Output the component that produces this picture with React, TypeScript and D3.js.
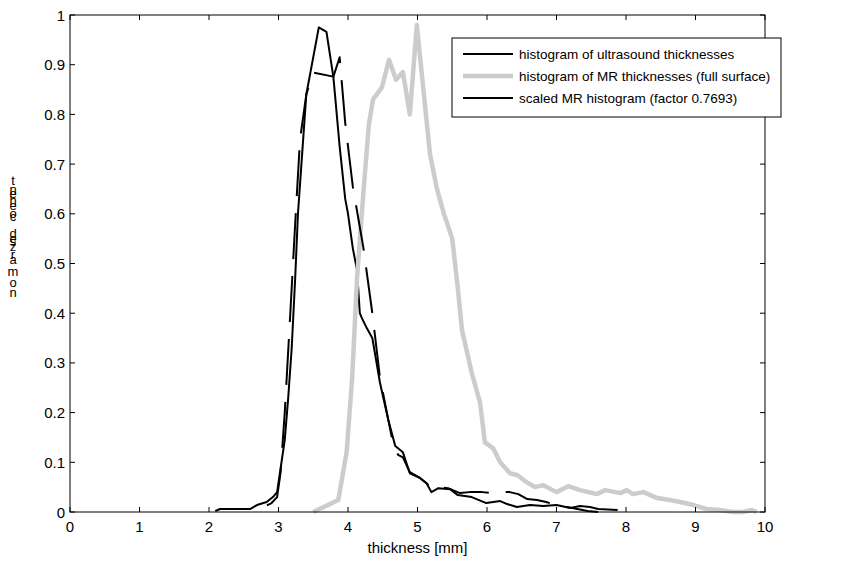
import React from 'react';
import * as d3 from 'd3';

// ---------- data ----------
const X_TICKS = [0, 1, 2, 3, 4, 5, 6, 7, 8, 9, 10];
const Y_TICKS = [0, 0.1, 0.2, 0.3, 0.4, 0.5, 0.6, 0.7, 0.8, 0.9, 1];
const Y_TICK_LABELS = ['0', '0.1', '0.2', '0.3', '0.4', '0.5', '0.6', '0.7', '0.8', '0.9', '1'];

const LEGEND_LABELS = [
  'histogram of ultrasound thicknesses',
  'histogram of MR thicknesses (full surface)',
  'scaled MR histogram (factor 0.7693)',
];
const X_LABEL = 'thickness [mm]';
const Y_LABEL_CHARS = ['t', 'n', 'e', 'h', 'e', 'o', 'c', 'd', 'e', 's', 'z', 'r', 'a', 'm', 'o', 'n'];

const US_X = [2.09, 2.16, 2.59, 2.69, 2.83, 2.92, 2.98, 3.02, 3.09, 3.14, 3.19, 3.24, 3.28, 3.34, 3.40, 3.58, 3.69, 3.79, 3.88, 3.96, 4.00, 4.07, 4.13, 4.17, 4.20, 4.27, 4.35, 4.46, 4.58, 4.68, 4.79, 4.89, 5.04, 5.13, 5.20, 5.30, 5.47, 5.58, 5.78, 5.99, 6.19, 6.29, 6.43, 6.62, 6.81, 7.00, 7.20, 7.34, 7.48, 7.60, 7.88];
const US_Y = [0.002, 0.006, 0.006, 0.014, 0.02, 0.03, 0.04, 0.078, 0.145, 0.23, 0.33, 0.47, 0.6, 0.72, 0.84, 0.975, 0.966, 0.875, 0.735, 0.63, 0.6, 0.53, 0.487, 0.40, 0.39, 0.37, 0.35, 0.26, 0.185, 0.133, 0.12, 0.078, 0.068, 0.058, 0.04, 0.048, 0.046, 0.034, 0.03, 0.018, 0.022, 0.016, 0.01, 0.014, 0.012, 0.014, 0.008, 0.012, 0.01, 0.006, 0.004];

const MR_X = [3.50, 3.86, 3.98, 4.06, 4.13, 4.22, 4.30, 4.36, 4.49, 4.59, 4.69, 4.79, 4.89, 4.99, 5.18, 5.28, 5.38, 5.50, 5.58, 5.64, 5.78, 5.90, 5.97, 6.09, 6.19, 6.33, 6.44, 6.57, 6.69, 6.81, 7.00, 7.17, 7.34, 7.58, 7.70, 7.92, 8.01, 8.10, 8.25, 8.45, 8.63, 8.78, 8.97, 9.16, 9.35, 9.54, 9.68, 9.81, 9.88];
const MR_Y = [0.0, 0.024, 0.12, 0.27, 0.47, 0.64, 0.78, 0.83, 0.855, 0.91, 0.87, 0.885, 0.80, 0.98, 0.72, 0.65, 0.6, 0.55, 0.45, 0.366, 0.28, 0.22, 0.14, 0.128, 0.10, 0.078, 0.074, 0.06, 0.05, 0.054, 0.04, 0.052, 0.044, 0.036, 0.044, 0.038, 0.044, 0.036, 0.04, 0.028, 0.024, 0.02, 0.014, 0.006, 0.004, 0.0, 0.0, 0.004, 0.0];

const SC_X = [2.69, 2.76, 2.90, 2.98, 3.03, 3.09, 3.17, 3.24, 3.31, 3.40, 3.50, 3.79, 3.88, 3.96, 4.07, 4.22, 4.35, 4.46, 4.63, 4.72, 4.79, 4.89, 5.04, 5.13, 5.20, 5.30, 5.44, 5.61, 5.75, 5.93, 6.07, 6.20, 6.33, 6.45, 6.58, 6.72, 6.85, 7.00, 7.15, 7.30, 7.45, 7.60];
const SC_Y = [0.0, 0.008, 0.018, 0.03, 0.08, 0.2, 0.4, 0.58, 0.75, 0.84, 0.884, 0.876, 0.915, 0.783, 0.654, 0.533, 0.40, 0.27, 0.15, 0.115, 0.11, 0.08, 0.068, 0.058, 0.048, 0.05, 0.048, 0.038, 0.04, 0.04, 0.038, 0.04, 0.04, 0.036, 0.026, 0.024, 0.02, 0.014, 0.01, 0.006, 0.002, 0.0];

// ---------- layout ----------
const W = 841, H = 561;
const L = 70, R = 765, T = 15, B = 512;
const FONT = '"Liberation Sans", Arial, Helvetica, sans-serif';
const FS = 15;
const LEG_FS = 13.5;

export default function App() {
  const x = d3.scaleLinear().domain([0, 10]).range([L, R]);
  const y = d3.scaleLinear().domain([0, 1]).range([B, T]);
  const line = d3.line<[number, number]>().x(d => x(d[0])).y(d => y(d[1]));
  const zip = (xs: number[], ys: number[]) => xs.map((v, i) => [v, ys[i]] as [number, number]);

  const usPath = line(zip(US_X, US_Y)) || '';
  const mrPath = line(zip(MR_X, MR_Y)) || '';
  const scPath = line(zip(SC_X, SC_Y)) || '';

  const tickLen = 5;
  const legX = 452, legY = 38, legW = 329, legH = 79;
  const rowY = [54, 76, 98];
  const styles = [
    { stroke: '#000', width: 2 },
    { stroke: '#cccccc', width: 4.5 },
    { stroke: '#000', width: 2 },
  ];

  const yLabelPos = [180, 189, 193, 200, 205, 213, 216, 233, 238, 241, 246, 254, 259, 271, 282, 292];

  return (
    <svg width={W} height={H} style={{ position: 'absolute', left: 0, top: 0, background: '#fff' }} fontFamily={FONT}>
      <rect x={0} y={0} width={W} height={H} fill="#fff" />
      {/* data lines */}
      <g fill="none" strokeLinejoin="round">
        <path d={usPath} stroke="#000" strokeWidth={2} />
        <path d={mrPath} stroke="#cccccc" strokeWidth={4.5} />
        <path d={scPath} stroke="#000" strokeWidth={2} strokeDasharray="46,17" strokeDashoffset={-12} />
      </g>
      {/* axes box */}
      <rect x={L} y={T} width={R - L} height={B - T} fill="none" stroke="#000" strokeWidth={1} />
      {X_TICKS.map(t => (
        <g key={'x' + t}>
          <line x1={x(t)} x2={x(t)} y1={B} y2={B - tickLen} stroke="#000" />
          <line x1={x(t)} x2={x(t)} y1={T} y2={T + tickLen} stroke="#000" />
          <text x={x(t)} y={B + 20} fontSize={FS} textAnchor="middle">{t}</text>
        </g>
      ))}
      {Y_TICKS.map((t, i) => (
        <g key={'y' + t}>
          <line x1={L} x2={L + tickLen} y1={y(t)} y2={y(t)} stroke="#000" />
          <line x1={R} x2={R - tickLen} y1={y(t)} y2={y(t)} stroke="#000" />
          <text x={L - 5} y={y(t)} fontSize={FS} textAnchor="end" dominantBaseline="central">{Y_TICK_LABELS[i]}</text>
        </g>
      ))}
      <text x={(L + R) / 2} y={553} fontSize={FS} textAnchor="middle">{X_LABEL}</text>
      {Y_LABEL_CHARS.map((c, i) => (
        <text key={'yl' + i} x={13} y={yLabelPos[i]} fontSize={13} textAnchor="middle" dominantBaseline="central">{c}</text>
      ))}
      {/* legend */}
      <rect x={legX} y={legY} width={legW} height={legH} fill="#fff" stroke="#000" strokeWidth={1} />
      {LEGEND_LABELS.map((lab, i) => (
        <g key={'lg' + i}>
          <line x1={463} x2={513} y1={rowY[i]} y2={rowY[i]} stroke={styles[i].stroke} strokeWidth={styles[i].width} />
          <text x={519} y={rowY[i]} fontSize={LEG_FS} dominantBaseline="central">{lab}</text>
        </g>
      ))}
    </svg>
  );
}
